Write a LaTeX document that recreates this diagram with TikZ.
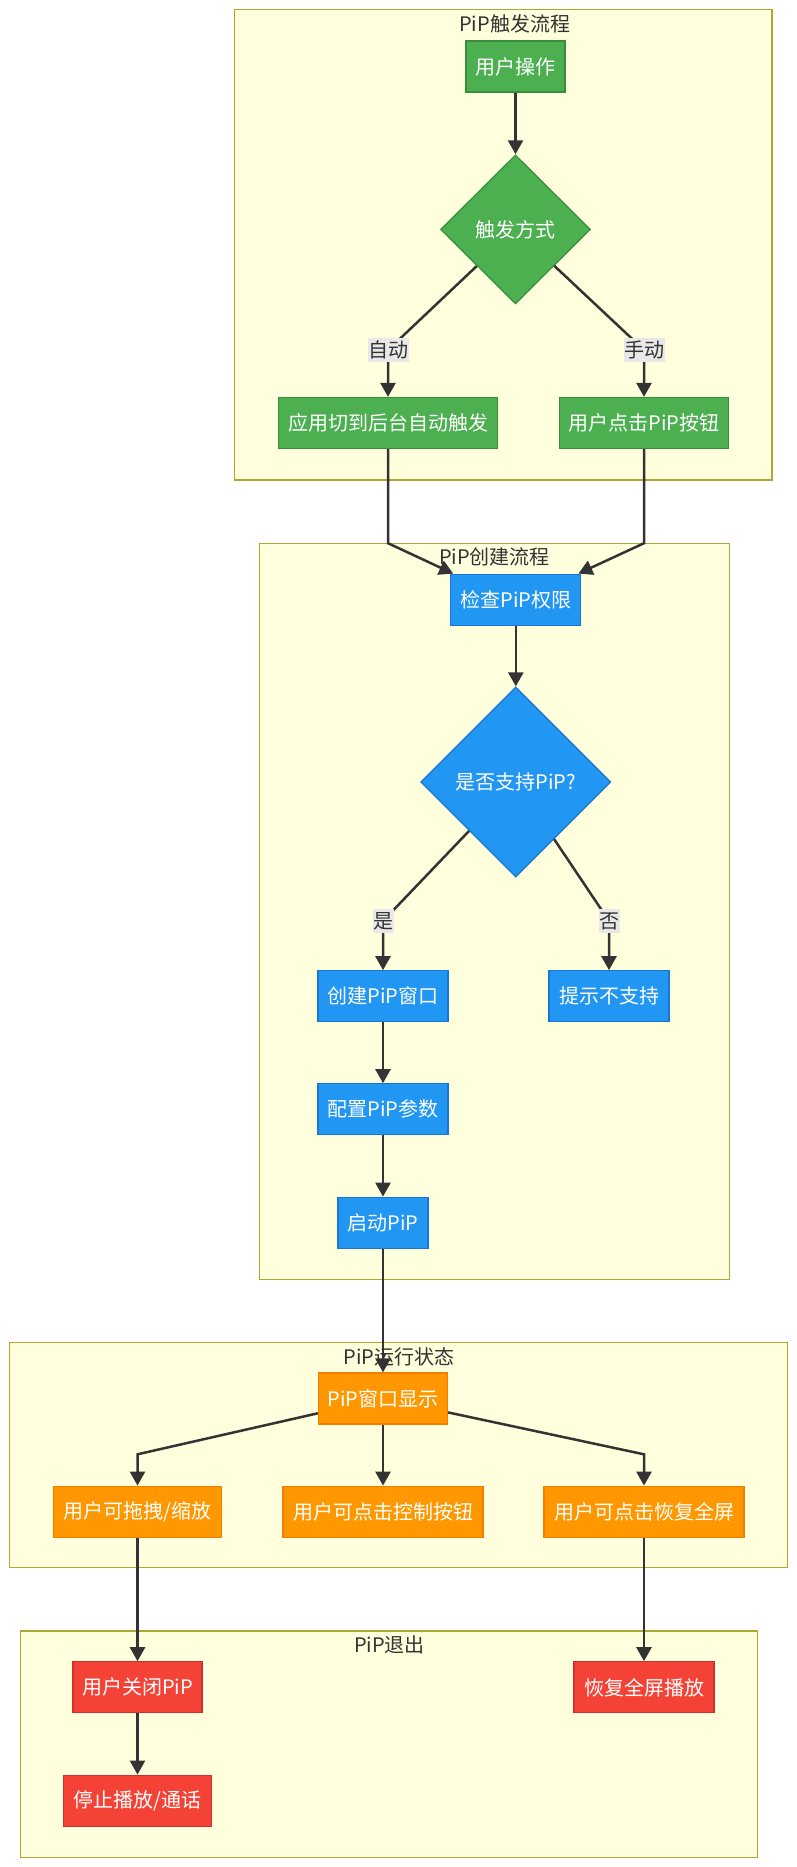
\documentclass[tikz,border=0pt]{standalone}
\usepackage{fontspec}
\setmainfont{Noto Sans CJK SC}
\usetikzlibrary{shapes.geometric,arrows.meta}
\definecolor{clfill}{HTML}{FFFFDE}
\definecolor{clline}{HTML}{AAAA33}
\definecolor{txt}{HTML}{333333}
\definecolor{edgec}{HTML}{333333}
\definecolor{lblbg}{HTML}{E8E8E8}
\definecolor{grnfill}{HTML}{4CAF50}
\definecolor{grnline}{HTML}{388E3C}
\definecolor{bluefill}{HTML}{2196F3}
\definecolor{blueline}{HTML}{1976D2}
\definecolor{orgfill}{HTML}{FF9800}
\definecolor{orgline}{HTML}{F57C00}
\definecolor{redfill}{HTML}{F44336}
\definecolor{redline}{HTML}{D32F2F}

\begin{document}
\begin{tikzpicture}[x=1pt,y=-1pt]
\tikzstyle{clust}=[draw=clline,fill=clfill,line width=1.2pt]
\tikzstyle{ctitle}=[text=txt,font=\fontsize{20}{24}\selectfont,inner sep=0pt]
\tikzstyle{recti}=[rectangle,line width=1.2pt,text=white,font=\fontsize{20}{24}\selectfont,minimum height=51pt,inner sep=0pt]
\tikzstyle{greenbox}=[recti,draw=grnline,fill=grnfill]
\tikzstyle{bluebox}=[recti,draw=blueline,fill=bluefill]
\tikzstyle{orangebox}=[recti,draw=orgline,fill=orgfill]
\tikzstyle{redbox}=[recti,draw=redline,fill=redfill]
\tikzstyle{greendia}=[diamond,aspect=1,inner sep=0pt,line width=1.2pt,draw=grnline,fill=grnfill,text=white,font=\fontsize{20}{24}\selectfont]
\tikzstyle{bluedia}=[greendia,draw=blueline,fill=bluefill]
\tikzstyle{lbl}=[fill=lblbg,text=txt,font=\fontsize{20}{24}\selectfont,inner xsep=0.5pt,inner ysep=3pt]
\tikzstyle{flow}=[draw=edgec,line width=2.5pt,-{Triangle[width=15pt,length=14pt]}]
\useasboundingbox (0,0) rectangle (797,1867);

\draw [clust] (234.7,9.5) rectangle (772,480);
\node [ctitle] (t1) at (514.6,24) {PiP触发流程};
\draw [clust] (259.5,543.2) rectangle (729.5,1279.4);
\node [ctitle] (t2) at (494.5,557) {PiP创建流程};
\draw [clust] (9.5,1342.3) rectangle (787.5,1567.8);
\node [ctitle] (t3) at (399,1356.5) {PiP运行状态};
\draw [clust] (20.3,1631) rectangle (757.7,1857.2);
\node [ctitle] (t4) at (389.5,1645) {PiP退出};

\node [greenbox,minimum width=99pt] (user) at (515.5,66.5) {用户操作};
\node [greendia,minimum width=150pt,minimum height=149pt] (trig) at (515.5,229.4) {触发方式};
\node [greenbox,minimum width=219pt] (app) at (388,423) {应用切到后台自动触发};
\node [greenbox,minimum width=169.5pt] (btn) at (644,423) {用户点击PiP按钮};

\node [bluebox,minimum width=130pt] (chk) at (515.8,599.7) {检查PiP权限};
\node [bluedia,minimum width=190pt,minimum height=190pt] (supp) at (515.8,782) {是否支持PiP?};
\node [bluebox,minimum width=130pt] (crt) at (383,996.3) {创建PiP窗口};
\node [bluebox,minimum width=120pt] (unsup) at (609,996.3) {提示不支持};
\node [bluebox,minimum width=130pt] (cfg) at (383,1109.3) {配置PiP参数};
\node [bluebox,minimum width=90pt] (start) at (383,1222.7) {启动PiP};

\node [orangebox,minimum width=129pt] (win) at (383,1398.5) {PiP窗口显示};
\node [orangebox,minimum width=168.5pt] (drag) at (137.5,1511.7) {用户可拖拽/缩放};
\node [orangebox,minimum width=200pt] (ctrl) at (383,1511.7) {用户可点击控制按钮};
\node [orangebox,minimum width=200pt] (full) at (644,1511.7) {用户可点击恢复全屏};

\node [redbox,minimum width=129pt] (close) at (137.5,1687.3) {用户关闭PiP};
\node [redbox,minimum width=148pt] (stop) at (137.5,1800.7) {停止播放/通话};
\node [redbox,minimum width=140pt] (resume) at (644,1687.3) {恢复全屏播放};

\coordinate (kauto) at (388,350);
\coordinate (kman) at (644,350);
\coordinate (jl) at (388,543.2);
\coordinate (jr) at (644,543.2);
\coordinate (kyes) at (383,921);
\coordinate (kno) at (609,921);
\coordinate (jd) at (137.5,1454.3);
\coordinate (jf) at (644,1454.3);

\draw [flow] (user) -- (trig);
\draw [flow] (trig) -- (kauto) node [lbl] {自动} -- (app);
\draw [flow] (trig) -- (kman) node [lbl] {手动} -- (btn);
\draw [flow] (app) -- (jl) -- ([xshift=3pt]chk.north west);
\draw [flow] (btn) -- (jr) -- ([xshift=-3pt]chk.north east);
\draw [flow] (chk) -- (supp);
\draw [flow] (supp) -- (kyes) node [lbl] {是} -- (crt);
\draw [flow] (supp) -- (kno) node [lbl] {否} -- (unsup);
\draw [flow] (crt) -- (cfg);
\draw [flow] (cfg) -- (start);
\draw [flow] (start) -- (win);
\draw [flow] (win) -- (jd) -- (drag);
\draw [flow] (win) -- (ctrl);
\draw [flow] (win) -- (jf) -- (full);
\draw [flow] (drag) -- (close);
\draw [flow] (close) -- (stop);
\draw [flow] (full) -- (resume);
\end{tikzpicture}
\end{document}
